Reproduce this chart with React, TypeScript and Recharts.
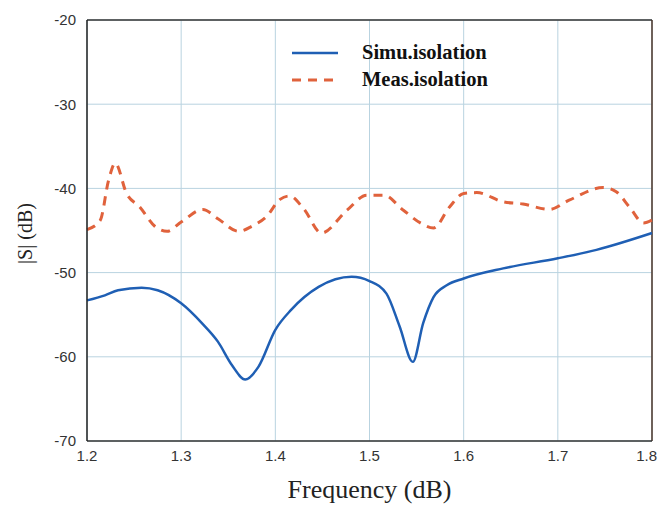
import { LineChart, Line, XAxis, YAxis, CartesianGrid, ReferenceLine } from 'recharts';

// simulated isolation (frequency in GHz, |S| in dB)
const simuFreq = [1.2, 1.219, 1.233, 1.258, 1.275, 1.3, 1.322, 1.339, 1.354, 1.368, 1.382, 1.4, 1.417, 1.446, 1.481, 1.5, 1.518, 1.532, 1.546, 1.557, 1.568, 1.582, 1.6, 1.642, 1.7, 1.741, 1.8];
const simuDb = [-53.3, -52.7, -52.1, -51.8, -52.1, -53.65, -56.0, -58.2, -61.0, -62.7, -61.2, -56.8, -54.4, -51.7, -50.5, -51.0, -52.5, -56.4, -60.6, -56.0, -52.9, -51.5, -50.7, -49.5, -48.3, -47.3, -45.3];

// measured isolation
const measFreq = [1.2, 1.214, 1.223, 1.23, 1.242, 1.256, 1.272, 1.285, 1.3, 1.323, 1.339, 1.361, 1.375, 1.391, 1.405, 1.415, 1.43, 1.449, 1.476, 1.497, 1.515, 1.536, 1.554, 1.568, 1.585, 1.6, 1.614, 1.642, 1.663, 1.691, 1.712, 1.748, 1.762, 1.776, 1.791, 1.8];
const measDb = [-44.9, -43.8, -39.0, -37.0, -40.6, -42.2, -44.5, -45.1, -44.0, -42.5, -43.6, -45.1, -44.5, -43.3, -41.3, -40.9, -42.4, -45.3, -42.6, -40.8, -40.8, -42.6, -44.1, -44.7, -42.2, -40.6, -40.5, -41.6, -41.85, -42.5, -41.4, -39.9, -40.4, -42.2, -44.1, -43.75];

const xTicks = [1.2, 1.3, 1.4, 1.5, 1.6, 1.7, 1.8];
const yTicks = [-70, -60, -50, -40, -30, -20];

const simuData = simuFreq.map((f, i) => ({ f, db: simuDb[i] }));
const measData = measFreq.map((f, i) => ({ f, db: measDb[i] }));

const BLUE = '#1f5fb4';
const RED = '#e0623c';
const SERIF = '"Liberation Serif", "Times New Roman", serif';
const tickStyle = { fill: '#333', fontSize: 15, fontFamily: '"Liberation Sans", Arial, sans-serif' };

// legend drawn as an overlay so it doesn't shrink the plot area
const IsolationLegend = () => (
  <div style={{ position: 'absolute', left: 284, top: 31, fontFamily: SERIF, fontWeight: 'bold', fontSize: 20.5, color: '#111' }}>
    <div style={{ display: 'flex', alignItems: 'center', height: 27 }}>
      <svg width={70} height={10}>
        <line x1={0} y1={5} x2={46} y2={5} stroke={BLUE} strokeWidth={2.5} />
      </svg>
      <span>Simu.isolation</span>
    </div>
    <div style={{ display: 'flex', alignItems: 'center', height: 27 }}>
      <svg width={70} height={10}>
        <line x1={0} y1={5} x2={46} y2={5} stroke={RED} strokeWidth={3} strokeDasharray="9 7" />
      </svg>
      <span>Meas.isolation</span>
    </div>
  </div>
);

const XTitle = ({ viewBox }: any) => {
  const cx = viewBox.x + viewBox.width / 2;
  return (
    <text x={cx} y={viewBox.y + 57} textAnchor="middle" fill="#222" fontSize={26} fontFamily={SERIF}>
      Frequency (dB)
    </text>
  );
};

const YTitle = ({ viewBox }: any) => {
  const cx = 17;
  const cy = viewBox.y + viewBox.height / 2 + 3;
  return (
    <text
      x={cx}
      y={cy}
      transform={`rotate(-90 ${cx} ${cy})`}
      textAnchor="middle"
      dominantBaseline="central"
      fill="#222"
      fontSize={20}
      fontFamily={SERIF}
    >
      |S| (dB)
    </text>
  );
};

// page spacing moved to padding so the edge labels aren't clipped
const pageCss = `
  body { margin: 0; padding: 8px; }
  .recharts-surface, .recharts-wrapper { overflow: visible; }
`;

export default function App() {
  return (
    <div style={{ position: 'relative', width: 648, height: 492 }}>
      <style>{pageCss}</style>
      <LineChart width={648} height={492} margin={{ top: 12, right: 4, left: 0, bottom: 0 }}>
        <CartesianGrid stroke="#b9d3e0" strokeWidth={1} />
        <XAxis
          dataKey="f"
          type="number"
          domain={[1.2, 1.8]}
          ticks={xTicks}
          tickFormatter={(v: number) => v.toFixed(1)}
          tick={tickStyle}
          tickSize={0}
          tickMargin={9}
          height={59}
          axisLine={{ stroke: '#333', strokeWidth: 1.5 }}
          allowDuplicatedCategory={false}
          label={<XTitle />}
        />
        <YAxis
          type="number"
          domain={[-70, -20]}
          ticks={yTicks}
          tick={tickStyle}
          tickSize={0}
          tickMargin={11}
          width={79}
          axisLine={{ stroke: '#222', strokeWidth: 1.5 }}
          label={<YTitle />}
        />
        <ReferenceLine y={-20} stroke="#333" strokeWidth={1.5} />
        <ReferenceLine x={1.8} stroke="#4a3328" strokeWidth={1.5} />
        <Line
          data={simuData}
          dataKey="db"
          type="monotone"
          stroke={BLUE}
          strokeWidth={2.5}
          dot={false}
          isAnimationActive={false}
        />
        <Line
          data={measData}
          dataKey="db"
          type="monotone"
          stroke={RED}
          strokeWidth={3}
          strokeDasharray="9 7"
          dot={false}
          isAnimationActive={false}
        />
      </LineChart>
      <IsolationLegend />
    </div>
  );
}
